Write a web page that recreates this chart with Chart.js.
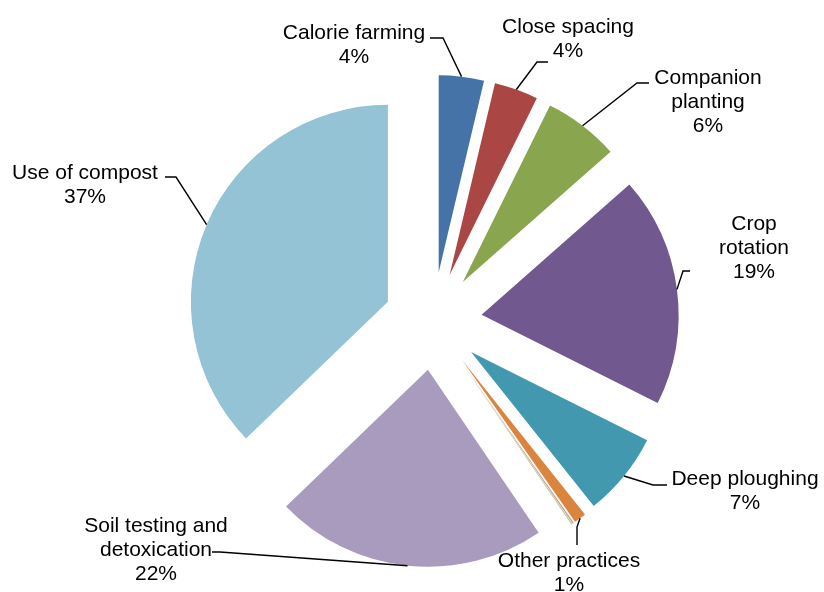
<!DOCTYPE html>
<html>
<head>
<meta charset="utf-8">
<script src="https://cdn.jsdelivr.net/npm/chart.js@4.4.1/dist/chart.umd.min.js"></script>
<style>
  html, body { margin: 0; padding: 0; background: #fff; }
</style>
</head>
<body>
<canvas id="myChart" width="824" height="592"></canvas>
<script>
// slice data, clockwise from 12 o'clock
const categories = ['Calorie farming', 'Close spacing', 'Companion\nplanting', 'Crop\nrotation', 'Deep ploughing',
  'Other practices', '', '', 'Soil testing and\ndetoxication', 'Use of compost'];
const shares = [3.7, 3.6, 6.2, 18.9, 6.9, 1.0, 0.1, 0.1, 22.3, 37.2];
const colors = ['#4572A7', '#AA4643', '#89A54E', '#71588F', '#4198AF', '#DB843D', '#D19392', '#B9CD96', '#A99BBD', '#93C3D4'];

const EXPLODE = 49;
const RADIUS = 197;

// label text centre / first baseline, and leader line elbow + end
const labelLayout = [
  { x: 354, y: 39, path: [[443, 38], [430, 38]] },
  { x: 568, y: 33, path: [[537, 62], [548, 62]] },
  { x: 708, y: 84, path: [[637, 83], [649, 83]] },
  { x: 754, y: 230, path: [[683, 271], [690, 271]] },
  { x: 745, y: 485, path: [[653, 485], [667, 485]] },
  { x: 569, y: 567, path: [[577, 527], [577, 545]] },
  null,
  null,
  { x: 156, y: 532, path: [[220, 552], [212, 552]] },
  { x: 85, y: 179, path: [[176, 177], [165, 177]] }
];

// exploded slices: push every arc out along its bisector
const arcDraw = Chart.ArcElement.prototype.draw;
Chart.ArcElement.prototype.draw = function (ctx) {
  const mid = (this.startAngle + this.endAngle) / 2;
  ctx.save();
  ctx.translate(Math.cos(mid) * EXPLODE, Math.sin(mid) * EXPLODE);
  arcDraw.call(this, ctx);
  ctx.restore();
};

const labelPlugin = {
  id: 'sliceLabels',
  afterDatasetsDraw(chart) {
    const ctx = chart.ctx;
    const arcs = chart.getDatasetMeta(0).data;
    const total = shares.reduce((a, b) => a + b, 0);
    ctx.save();
    ctx.strokeStyle = '#000';
    ctx.fillStyle = '#000';
    ctx.lineWidth = 1.4;
    ctx.font = '21px "Liberation Sans", Arial, sans-serif';
    ctx.textAlign = 'center';
    arcs.forEach((arc, i) => {
      const lay = labelLayout[i];
      if (!lay) return;
      const mid = (arc.startAngle + arc.endAngle) / 2;
      const r = arc.outerRadius + EXPLODE;
      ctx.beginPath();
      ctx.moveTo(arc.x + Math.cos(mid) * r, arc.y + Math.sin(mid) * r);
      lay.path.forEach((p) => ctx.lineTo(p[0], p[1]));
      ctx.stroke();
      const lines = categories[i].split('\n').concat(Math.round(shares[i] / total * 100) + '%');
      lines.forEach((t, k) => ctx.fillText(t, lay.x, lay.y + k * 24));
    });
    ctx.restore();
  }
};

new Chart(document.getElementById('myChart').getContext('2d'), {
  type: 'pie',
  data: {
    labels: categories,
    datasets: [{
      data: shares,
      backgroundColor: colors,
      borderWidth: 0
    }]
  },
  options: {
    responsive: false,
    animation: false,
    radius: RADIUS,
    layout: { padding: { left: 42, top: 50, right: 0, bottom: 0 } },
    plugins: {
      legend: { display: false },
      tooltip: { enabled: false }
    }
  },
  plugins: [labelPlugin]
});
</script>
</body>
</html>
